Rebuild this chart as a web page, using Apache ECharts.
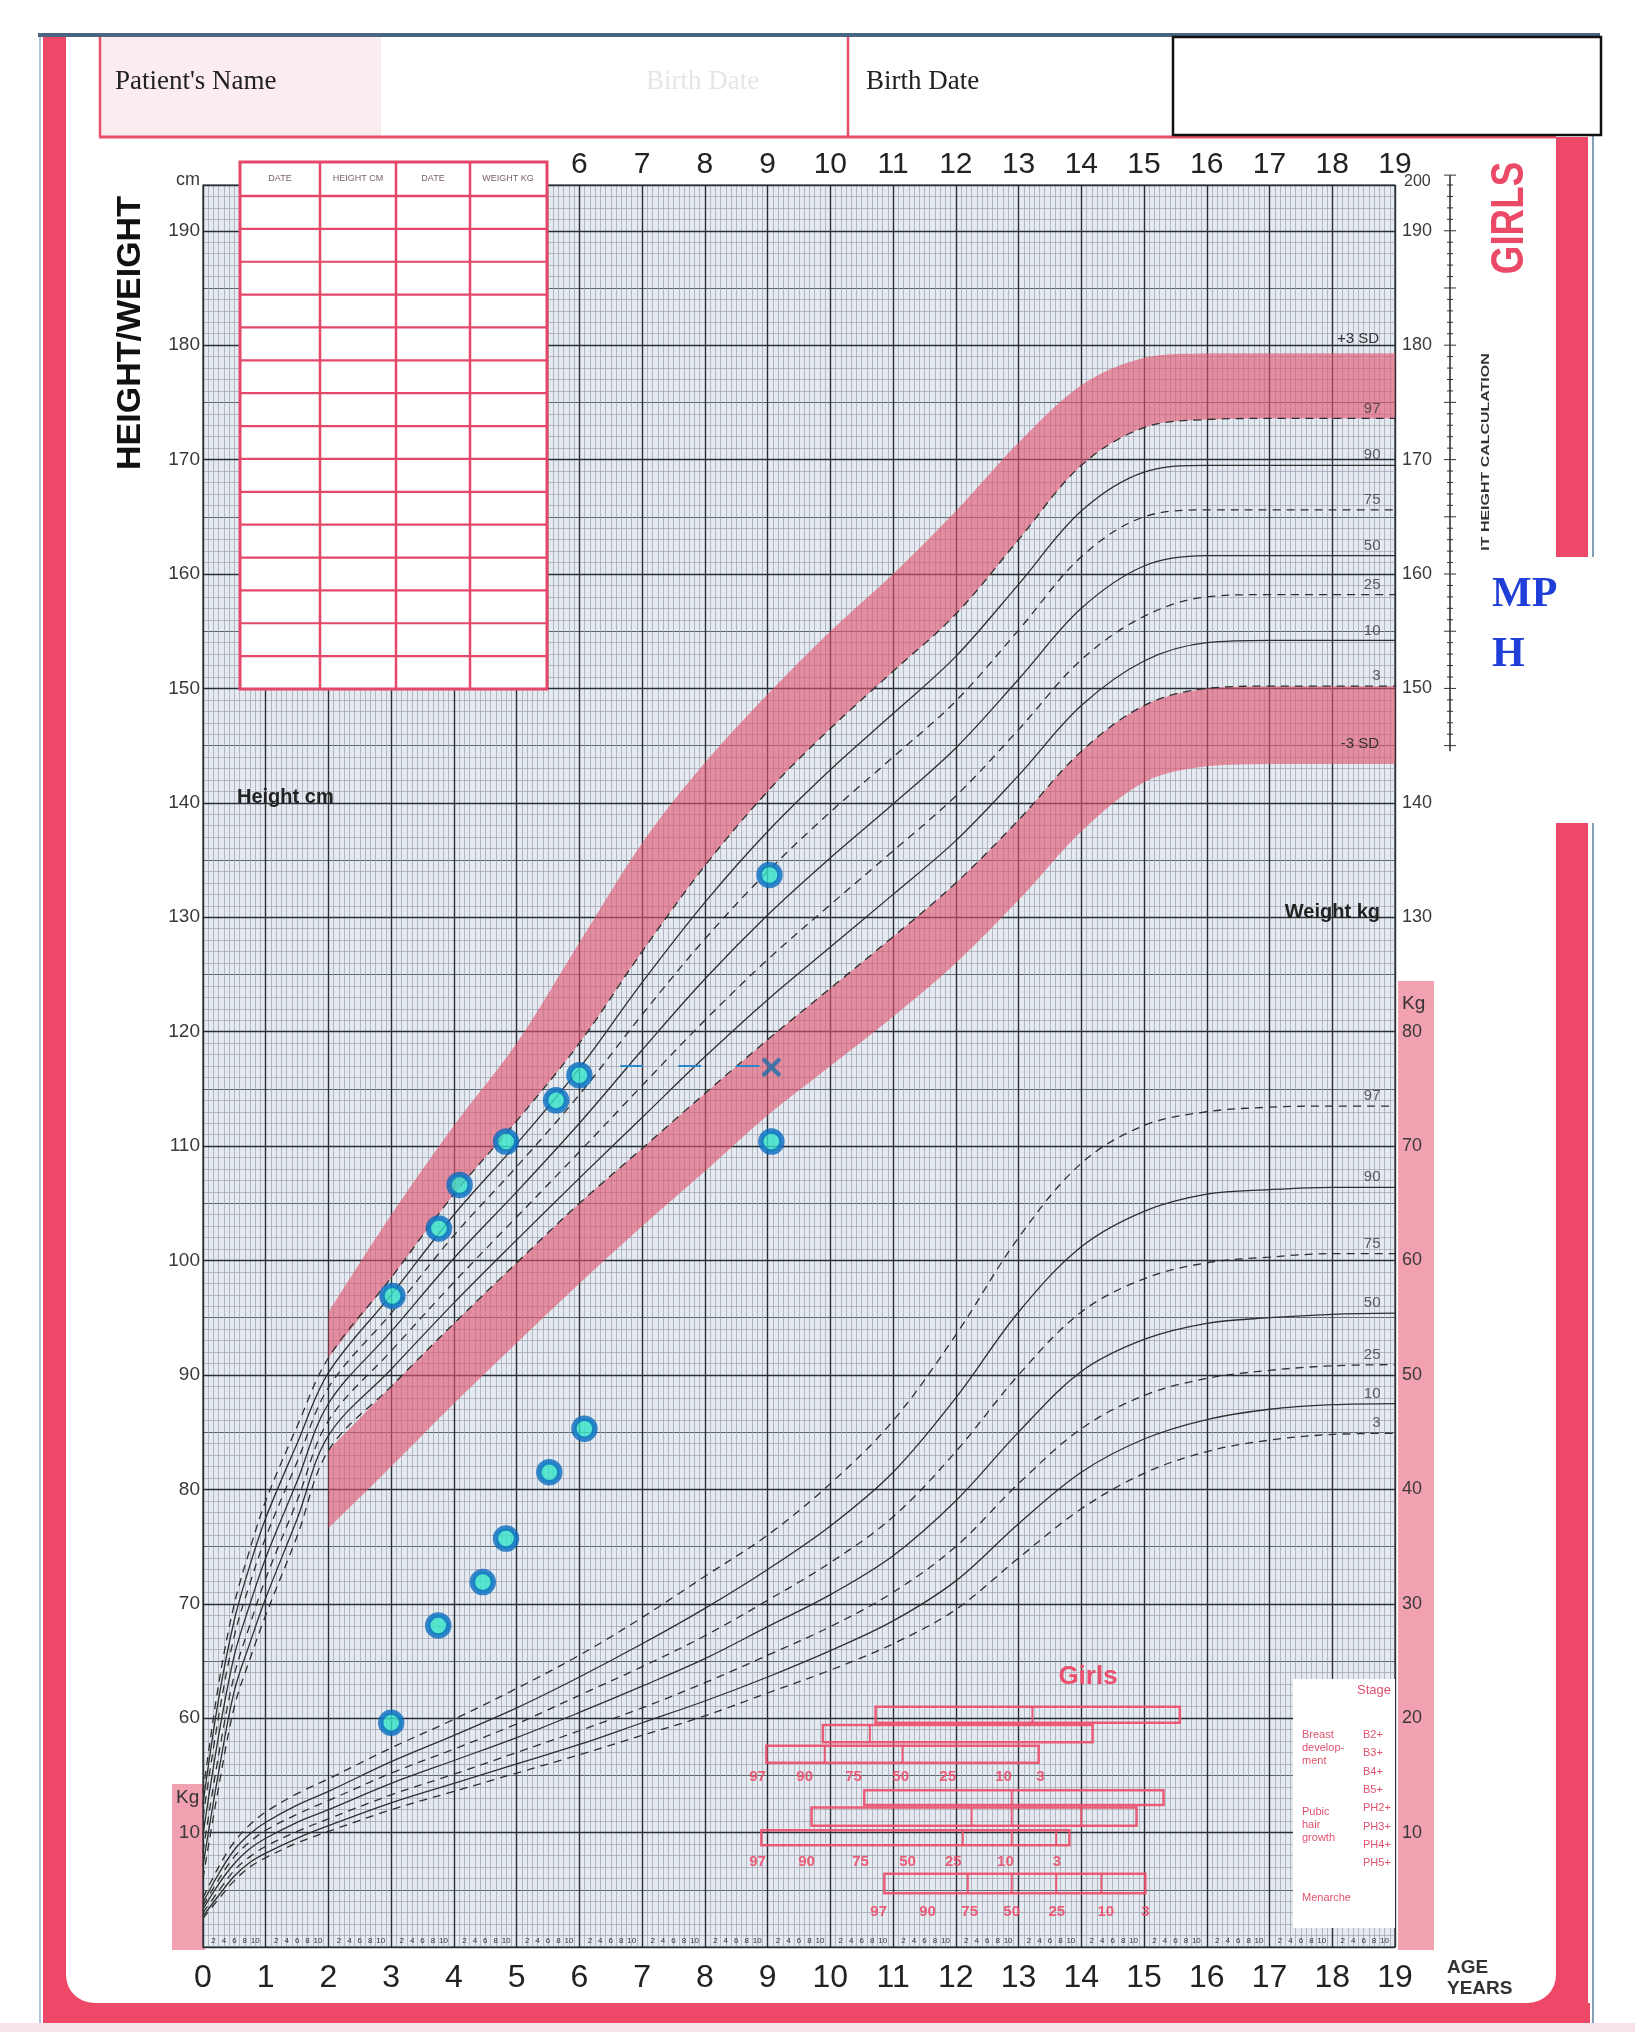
<!DOCTYPE html>
<html>
<head>
<meta charset="utf-8">
<title>Girls height / weight chart</title>
<script src="https://cdn.jsdelivr.net/npm/echarts@6/dist/echarts.min.js"></script>
<style>
  html, body { margin: 0; padding: 0; background: #fff; }
  #chart { width: 1635px; height: 2032px; }
</style>
</head>
<body>
<div id="chart"></div>
<script>
var curveAges = [0, 0.25, 0.5, 0.75, 1, 1.5, 2, 3, 4, 5, 6, 7, 8, 9, 10, 11, 12, 13, 14, 15, 16, 17, 18, 19];
var bandAges = [2, 3, 4, 5, 6, 7, 8, 9, 10, 11, 12, 13, 14, 15, 16, 17, 18, 19];

// height centiles (cm)
var h97 = [53.5, 63, 70, 74.8, 79, 85.5, 91.5, 98.5, 105.8, 112.2, 119, 127, 134.5, 141, 146.5, 151.5, 156.5, 163, 169.5, 172.8, 173.5, 173.6, 173.6, 173.6];
var h90 = [52.5, 61.7, 68.6, 73.4, 77.5, 84, 90.2, 97, 104, 110.2, 116.8, 124.3, 131.3, 137.5, 142.9, 147.8, 152.8, 159.1, 165.5, 168.9, 169.5, 169.5, 169.5, 169.5];
var h75 = [51.3, 60.2, 67.2, 71.8, 75.8, 82.4, 88.9, 95.4, 102.2, 108.2, 114.5, 121.5, 128.1, 134, 139.2, 144, 148.9, 155.1, 161.5, 165, 165.6, 165.6, 165.6, 165.6];
var h50 = [49.8, 58.5, 65.5, 70, 74, 80.7, 87.5, 93.8, 100.2, 106, 112, 118.4, 124.6, 130.2, 135.2, 139.9, 144.8, 150.8, 157, 160.7, 161.6, 161.6, 161.6, 161.6];
var h25 = [48.3, 56.8, 63.8, 68.2, 72.2, 79, 86, 92.1, 98.1, 103.8, 109.5, 115.3, 121, 126.3, 131.1, 135.8, 140.6, 146.4, 152.5, 156.3, 158, 158.2, 158.2, 158.2];
var h10 = [47.1, 55.3, 62.4, 66.6, 70.5, 77.4, 84.7, 90.5, 96.3, 101.8, 107.2, 112.5, 117.8, 122.8, 127.4, 132, 136.7, 142.4, 148.5, 152.4, 154, 154.2, 154.2, 154.2];
var h3 = [46, 54, 61, 65.2, 69, 75.9, 83.4, 89, 94.5, 99.8, 105, 109.8, 114.6, 119.3, 123.8, 128.3, 133, 138.5, 144.5, 148.5, 150, 150.2, 150.2, 150.2];
// +3 SD / -3 SD edges of the shaded bands (from age 2)
var hPlus3 = [95.5, 104, 111.8, 119, 127.8, 136.5, 143.5, 149.5, 155, 160, 165.5, 171.5, 176.5, 178.9, 179.3, 179.3, 179.3, 179.3];
var hMinus3 = [76.6, 82, 87.5, 92.8, 98, 103, 107.8, 112.7, 117, 121.3, 126, 131.5, 137.5, 141.8, 143.2, 143.4, 143.4, 143.4];

// weight centiles (kg)
var w97 = [4.3, 7, 9.2, 10.7, 11.8, 13.4, 14.7, 17.4, 19.9, 22.6, 25.5, 28.8, 32.4, 36, 40.5, 46, 53.5, 62, 68.5, 71.8, 73, 73.4, 73.5, 73.5];
var w90 = [3.9, 6.4, 8.5, 9.9, 10.9, 12.4, 13.6, 16.2, 18.5, 20.9, 23.6, 26.5, 29.6, 33, 36.8, 41.5, 48, 55.5, 61.2, 64.3, 65.8, 66.2, 66.4, 66.4];
var w75 = [3.6, 5.9, 7.9, 9.2, 10.2, 11.6, 12.8, 15.2, 17.3, 19.5, 22, 24.5, 27.2, 30.3, 33.6, 37.6, 43.3, 50, 55.5, 58.4, 59.8, 60.3, 60.6, 60.6];
var w50 = [3.3, 5.5, 7.3, 8.6, 9.5, 10.9, 12, 14.3, 16.3, 18.3, 20.5, 22.8, 25.2, 28, 30.8, 34.2, 39, 45, 50.3, 53.1, 54.5, 55, 55.3, 55.4];
var w25 = [3, 4.9, 6.7, 7.9, 8.8, 10.1, 11.2, 13.3, 15.1, 17, 18.9, 20.9, 23.1, 25.5, 28, 31, 35, 40.5, 45.3, 48.2, 49.7, 50.4, 50.8, 50.9];
var w10 = [2.7, 4.5, 6.2, 7.4, 8.2, 9.5, 10.6, 12.6, 14.3, 16, 17.7, 19.6, 21.5, 23.6, 25.9, 28.5, 32, 37, 41.5, 44.4, 46.1, 47, 47.4, 47.5];
var w3 = [2.5, 4.2, 5.8, 7, 7.8, 9.1, 10.1, 12, 13.6, 15.2, 16.8, 18.5, 20.2, 22.2, 24.2, 26.5, 29.5, 34, 38.3, 41.4, 43.3, 44.3, 44.8, 44.9];

var centileNames = ['97', '90', '75', '50', '25', '10', '3'];

// the patient's measurements
var heightAges = [3.02, 3.76, 4.09, 4.83, 5.63, 6.0, 9.03];
var heights = [96.9, 102.8, 106.6, 110.4, 114.0, 116.2, 133.7];
var weightAges = [3.0, 3.75, 4.46, 4.83, 5.52, 6.08, 9.06];
var weights = [19.6, 28.1, 31.9, 35.7, 41.5, 45.3, 70.4];
var crossAge = 9.06, crossHeight = 116.9;
var dashAges = [6.65, 9.0];
var dashHeights = [117, 117];
var mphHeight = 155.5;

// puberty staging (ages)
var stageFrom = [10.72, 9.88, 8.98, 10.54, 9.70, 8.90, 10.86];
var stageTo = [15.57, 14.18, 13.32, 15.31, 14.88, 13.81, 15.02];
var stageSplits = [[13.22], [10.63], [9.91, 11.15], [12.89], [12.25, 12.89, 14.0], [12.11, 12.89, 13.6], [12.19, 12.89, 13.6, 14.32]];
var breastCentileAges = [8.84, 9.59, 10.37, 11.12, 11.87, 12.76, 13.35];
var hairCentileAges = [8.84, 9.62, 10.48, 11.23, 11.96, 12.79, 13.61];
var menarcheCentileAges = [10.77, 11.55, 12.22, 12.89, 13.61, 14.39, 15.02];

// ---------------------------------------------------------------
var FONT = '"Liberation Sans", Arial, sans-serif';
var SERIF = '"Liberation Serif", "Times New Roman", serif';
var RED = '#ee4869';
var LINE = '#2f2f2f';

function pairs(xs, ys) {
  return xs.map(function (x, i) { return [x, ys[i]]; });
}

function txt(x, y, s, font, fill, align, extra) {
  var el = {
    type: 'text', x: x, y: y, z: 20, silent: true,
    style: { text: s, font: font, fill: fill, align: align || 'left', textAlign: align || 'left',
      verticalAlign: 'middle', textVerticalAlign: 'middle' }
  };
  if (extra) for (var k in extra) el[k] = extra[k];
  return el;
}
function rect(x, y, w, h, style, z) {
  return { type: 'rect', z: z === undefined ? 5 : z, silent: true, shape: { x: x, y: y, width: w, height: h }, style: style };
}
function seg(x1, y1, x2, y2, stroke, lw, z) {
  return { type: 'line', z: z === undefined ? 5 : z, silent: true, shape: { x1: x1, y1: y1, x2: x2, y2: y2 }, style: { stroke: stroke, lineWidth: lw } };
}

function curve(vals, dashed, yIdx) {
  return {
    type: 'line', yAxisIndex: yIdx, data: pairs(curveAges, vals), smooth: 0.35,
    showSymbol: false, silent: true, z: 3,
    lineStyle: { color: LINE, width: 1.3, type: dashed ? [8, 6] : 'solid' }
  };
}

function labelSeries(lists, yIdx) {
  var d = lists.map(function (vals, i) { return [19, vals[vals.length - 1], centileNames[i]]; });
  return {
    type: 'scatter', yAxisIndex: yIdx, data: d, symbolSize: 1, silent: true, z: 4,
    itemStyle: { color: 'rgba(0,0,0,0)' },
    label: { show: true, position: 'left', distance: 14, offset: [0, -10],
      formatter: function (p) { return p.value[2]; }, fontSize: 15, color: '#3a3a3a', fontFamily: FONT }
  };
}

// smooth (Catmull-Rom, clamped) path through already projected pixel points
function bezierThrough(pts) {
  var d = '';
  for (var i = 0; i < pts.length - 1; i++) {
    var p0 = pts[Math.max(i - 1, 0)], p1 = pts[i], p2 = pts[i + 1], p3 = pts[Math.min(i + 2, pts.length - 1)];
    var c1x = p1[0] + (p2[0] - p0[0]) / 6, c1y = p1[1] + (p2[1] - p0[1]) / 6;
    var c2x = p2[0] - (p3[0] - p1[0]) / 6, c2y = p2[1] - (p3[1] - p1[1]) / 6;
    var lo = Math.min(p1[1], p2[1]), hi = Math.max(p1[1], p2[1]);
    c1y = Math.min(hi, Math.max(lo, c1y));
    c2y = Math.min(hi, Math.max(lo, c2y));
    d += ' C' + c1x + ',' + c1y + ' ' + c2x + ',' + c2y + ' ' + p2[0] + ',' + p2[1];
  }
  return d;
}

function band(upper, lower, color, labelText, labelDy, labelFromUpper) {
  return {
    type: 'custom', data: [0], silent: true, z: 2,
    renderItem: function (params, api) {
      var up = [], low = [];
      for (var i = 0; i < bandAges.length; i++) up.push(api.coord([bandAges[i], upper[i]]));
      for (var j = bandAges.length - 1; j >= 0; j--) low.push(api.coord([bandAges[j], lower[j]]));
      var d = 'M' + up[0][0] + ',' + up[0][1] + bezierThrough(up) +
        ' L' + low[0][0] + ',' + low[0][1] + bezierThrough(low) + ' Z';
      var last = bandAges.length - 1;
      var anchor = api.coord([19, labelFromUpper ? upper[last] : lower[last]]);
      return {
        type: 'group', children: [
          { type: 'path', shape: { pathData: d }, style: { fill: color } },
          { type: 'text', x: anchor[0] - 16, y: anchor[1] + labelDy,
            style: { text: labelText, font: '15px ' + FONT, fill: '#333', align: 'right', textAlign: 'right',
              verticalAlign: 'middle', textVerticalAlign: 'middle' } }
        ]
      };
    }
  };
}

// staging diagram rows, in chart units (kg-scale height positions)
var stageRowTop = [61.0, 59.4, 57.6, 53.7, 52.2, 50.2, 46.4];
var stageRowBottom = [59.6, 57.9, 56.1, 52.4, 50.6, 48.9, 44.7];
var stageLabelLevel = [54.9, 47.4, 43.1];
var STAGE = 'rgba(236, 78, 108, 0.9)';

function stageItem(params, api) {
  var ch = [];
  for (var i = 0; i < stageFrom.length; i++) {
    var a = api.coord([stageFrom[i], stageRowTop[i]]);
    var b = api.coord([stageTo[i], stageRowBottom[i]]);
    ch.push({ type: 'rect', shape: { x: a[0], y: a[1], width: b[0] - a[0], height: b[1] - a[1] },
      style: { fill: 'none', stroke: STAGE, lineWidth: 2.5 } });
    stageSplits[i].forEach(function (s) {
      var p = api.coord([s, stageRowTop[i]]);
      ch.push({ type: 'line', shape: { x1: p[0], y1: a[1], x2: p[0], y2: b[1] }, style: { stroke: STAGE, lineWidth: 2 } });
    });
  }
  [breastCentileAges, hairCentileAges, menarcheCentileAges].forEach(function (ages, r) {
    ages.forEach(function (age, k) {
      var p = api.coord([age, stageLabelLevel[r]]);
      ch.push({ type: 'text', x: p[0], y: p[1],
        style: { text: centileNames[k], font: 'bold 15px ' + FONT, fill: STAGE, align: 'center', textAlign: 'center',
          verticalAlign: 'middle', textVerticalAlign: 'middle' } });
    });
  });
  return { type: 'group', children: ch };
}

// mid-parental height ruler right of the grid
function rulerItem(params, api) {
  var top = api.coord([19, 194.6]);
  var bot = api.coord([19, 144.5]);
  var x = top[0] + 55;
  var ch = [{ type: 'line', shape: { x1: x, y1: top[1] - 3, x2: x, y2: bot[1] }, style: { stroke: '#333', lineWidth: 1.6 } }];
  for (var v = 145; v <= 194; v++) {
    var p = api.coord([19, v]);
    var len = v % 5 === 0 ? 6 : 3;
    ch.push({ type: 'line', shape: { x1: x - len, y1: p[1], x2: x + len, y2: p[1] }, style: { stroke: '#333', lineWidth: 1 } });
  }
  ch.push({ type: 'line', shape: { x1: x - 6, y1: top[1] - 3, x2: x + 6, y2: top[1] - 3 }, style: { stroke: '#333', lineWidth: 1 } });
  return { type: 'group', children: ch };
}

function leftLabel(v) {
  if (v % 10 !== 0) return '';
  if (v >= 60) return String(v);
  if (v === 50) return '10';
  return '';
}
function rightLabel(v) {
  if (v >= 10 && v <= 80) return String(v);
  if (v >= 90 && v <= 150) return String(v + 40);
  return '';
}
function monthLabel(v) {
  var m = Math.round((v - Math.floor(v + 1e-6)) * 12);
  return m === 0 ? '' : String(m);
}

// ---------- decoration drawn in page pixels ----------
var graphics = [];
// page edges and red frame
graphics.push(rect(38, 33, 1562, 4, { fill: '#4a6580' }, 1));
graphics.push(seg(40, 37, 40, 2023, '#7d9bb8', 1.2, 1));
graphics.push(rect(43, 37, 23, 1986, { fill: RED }, 1));
graphics.push(rect(43, 2003, 1547, 20, { fill: RED }, 1));
graphics.push(rect(0, 2023, 1635, 9, { fill: '#f8e4e8' }, 1));
graphics.push(rect(1556, 137, 32, 420, { fill: RED }, 1));
graphics.push(rect(1556, 823, 32, 1200, { fill: RED }, 1));
graphics.push(seg(1593, 37, 1593, 557, '#5b7f9c', 1.5, 1));
graphics.push(seg(1593, 823, 1593, 2023, '#5b7f9c', 1.5, 1));
graphics.push(rect(66, 1975, 28, 28, { fill: RED }, 1));
graphics.push({ type: 'sector', z: 2, silent: true, shape: { cx: 94, cy: 1975, r: 28, r0: 0, startAngle: Math.PI / 2, endAngle: Math.PI }, style: { fill: '#fff' } });
graphics.push(rect(1528, 1975, 28, 28, { fill: RED }, 1));
graphics.push({ type: 'sector', z: 2, silent: true, shape: { cx: 1528, cy: 1975, r: 28, r0: 0, startAngle: 0, endAngle: Math.PI / 2 }, style: { fill: '#fff' } });

// header
graphics.push(rect(99, 37, 282, 99, { fill: '#fbecef' }, 1));
graphics.push(seg(99, 137, 1556, 137, '#e8506a', 3, 2));
graphics.push(seg(100, 37, 100, 137, '#e8506a', 2.5, 2));
graphics.push(seg(848, 37, 848, 137, '#e8506a', 2.5, 2));
graphics.push(txt(115, 82, "Patient's Name", '27px ' + SERIF, '#222'));
graphics.push(txt(646, 82, 'Birth Date', '27px ' + SERIF, '#e6e6e6'));
graphics.push(txt(866, 82, 'Birth Date', '27px ' + SERIF, '#222'));
graphics.push(rect(1173, 37, 428, 98, { fill: '#fff', stroke: '#111', lineWidth: 2.5 }, 3));

// side titles
graphics.push(txt(131, 333, 'HEIGHT/WEIGHT', 'bold 34px ' + FONT, '#111', 'center', { rotation: Math.PI / 2 }));
graphics.push(txt(1510, 218, 'GIRLS', 'bold 46px ' + FONT, '#ea4a66', 'center', { rotation: Math.PI / 2, scaleX: 0.8 }));
graphics.push(txt(1486, 452, 'IT HEIGHT CALCULATION', 'bold 11px ' + FONT, '#333', 'center', { rotation: Math.PI / 2, scaleX: 1.45 }));
graphics.push(txt(1492, 595, 'MP', 'bold 42px ' + SERIF, '#1f3fd8'));
graphics.push(txt(1492, 655, 'H', 'bold 42px ' + SERIF, '#1f3fd8'));
graphics.push(txt(1404, 182, '200', '16px ' + FONT, '#3a3a3a'));

// pink weight strips
graphics.push(rect(172, 1784, 33, 166, { fill: '#f2a1b1' }, -1));
graphics.push(rect(1398, 981, 36, 969, { fill: '#f2a1b1' }, -1));
graphics.push(txt(176, 1798, 'Kg', '19px ' + FONT, '#333'));
graphics.push(txt(1402, 1004, 'Kg', '19px ' + FONT, '#333'));

// axis captions
graphics.push(txt(176, 180, 'cm', '18px ' + FONT, '#3a3a3a'));
graphics.push(txt(237, 797, 'Height cm', 'bold 20px ' + FONT, '#222'));
graphics.push(txt(1380, 912, 'Weight kg', 'bold 20px ' + FONT, '#222', 'right'));
graphics.push(txt(1447, 1968, 'AGE', 'bold 19px ' + FONT, '#333'));
graphics.push(txt(1447, 1989, 'YEARS', 'bold 19px ' + FONT, '#333'));

// record table top left
(function () {
  var x0 = 240, y0 = 162, w = 307, h = 527, head = 34;
  var cols = [320, 396, 470];
  var tc = '#e4476a';
  graphics.push(rect(x0, y0, w, h, { fill: '#fff', stroke: tc, lineWidth: 3 }, 30));
  cols.forEach(function (c) { graphics.push(seg(c, y0, c, y0 + h, tc, 2.5, 31)); });
  graphics.push(seg(x0, y0 + head, x0 + w, y0 + head, tc, 2.5, 31));
  var rowH = (h - head) / 15;
  for (var r = 1; r < 15; r++) {
    var yy = y0 + head + r * rowH;
    graphics.push(seg(x0, yy, x0 + w, yy, tc, 2.2, 31));
  }
  var heads = ['DATE', 'HEIGHT CM', 'DATE', 'WEIGHT KG'];
  var centres = [280, 358, 433, 508];
  heads.forEach(function (s, i) {
    graphics.push(txt(centres[i], y0 + 17, s, '9px ' + FONT, '#7a6068', 'center', { z: 32 }));
  });
})();

// staging legend box
(function () {
  var sc = '#e0526e';
  graphics.push(rect(1293, 1679, 102, 249, { fill: '#fff' }, 6));
  var f = '11px ' + FONT;
  graphics.push(txt(1391, 1690, 'Stage', '13px ' + FONT, sc, 'right'));
  [['Breast', 1735], ['develop-', 1748], ['ment', 1761], ['Pubic', 1812], ['hair', 1825], ['growth', 1838], ['Menarche', 1898]]
    .forEach(function (t) { graphics.push(txt(1302, t[1], t[0], f, sc)); });
  [['B2+', 1735], ['B3+', 1753], ['B4+', 1772], ['B5+', 1790], ['PH2+', 1808], ['PH3+', 1827], ['PH4+', 1845], ['PH5+', 1863]]
    .forEach(function (t) { graphics.push(txt(1363, t[1], t[0], f, sc)); });
  graphics.push(txt(1088, 1677, 'Girls', 'bold 26px ' + FONT, '#ec4f6d', 'center'));
})();

var series = [
  band(hPlus3, h97.slice(6), 'rgba(226, 84, 112, 0.62)', '+3 SD', -14, true),
  band(h3.slice(6), hMinus3, 'rgba(226, 84, 112, 0.62)', '-3 SD', -20, false),
  curve(h97, true, 0), curve(h90, false, 0), curve(h75, true, 0), curve(h50, false, 0),
  curve(h25, true, 0), curve(h10, false, 0), curve(h3, true, 0),
  curve(w97, true, 1), curve(w90, false, 1), curve(w75, true, 1), curve(w50, false, 1),
  curve(w25, true, 1), curve(w10, false, 1), curve(w3, true, 1),
  labelSeries([h97, h90, h75, h50, h25, h10, h3], 0),
  labelSeries([w97, w90, w75, w50, w25, w10, w3], 1),
  { type: 'custom', data: [0], silent: true, z: 5, renderItem: stageItem },
  { type: 'custom', data: [0], silent: true, z: 5, renderItem: rulerItem },
  { type: 'line', data: [[19.1, mphHeight], [19.85, mphHeight]], clip: false, showSymbol: false, silent: true, z: 6,
    lineStyle: { color: '#1f72b8', width: 4 } },
  { type: 'line', data: pairs(dashAges, dashHeights), showSymbol: false, silent: true, z: 8,
    lineStyle: { color: '#2c86c8', width: 2.2, type: [23, 35] } },
  { type: 'scatter', data: pairs(heightAges, heights), symbolSize: 21, z: 10, silent: true,
    itemStyle: { color: '#35e3c8', borderColor: '#0b6cc0', borderWidth: 5.5 } },
  { type: 'scatter', yAxisIndex: 1, data: pairs(weightAges, weights), symbolSize: 21, z: 10, silent: true,
    itemStyle: { color: '#35e3c8', borderColor: '#0b6cc0', borderWidth: 5.5 } },
  { type: 'scatter', data: [[crossAge, crossHeight]], symbolSize: 20, z: 10, silent: true,
    symbol: 'path://M1.5,0 L5,3.5 L8.5,0 L10,1.5 L6.5,5 L10,8.5 L8.5,10 L5,6.5 L1.5,10 L0,8.5 L3.5,5 L0,1.5 Z',
    itemStyle: { color: '#1d6fa8' } }
];

var option = {
  backgroundColor: '#ffffff',
  animation: false,
  grid: { left: 203, top: 185, width: 1192, height: 1762, show: true, backgroundColor: '#e5eaf0',
    borderWidth: 1.2, borderColor: '#2a2f36' },
  xAxis: [
    { type: 'value', min: 0, max: 19, interval: 1, position: 'bottom',
      axisLine: { show: true, lineStyle: { color: '#2a2f36', width: 1.2 } }, axisTick: { show: false },
      axisLabel: { fontSize: 32, color: '#222', margin: 15, fontFamily: FONT },
      splitLine: { show: true, lineStyle: { color: '#2a2f36', width: 1.4 } },
      minorTick: { show: false, splitNumber: 12 },
      minorSplitLine: { show: true, lineStyle: { color: '#98a1ad', width: 0.7 } } },
    { type: 'value', min: 0, max: 19, interval: 1, position: 'top',
      axisLine: { show: false }, axisTick: { show: false }, splitLine: { show: false },
      axisLabel: { fontSize: 30, color: '#222', margin: 5, fontFamily: FONT,
        formatter: function (v) { return v >= 6 ? String(v) : ''; } } },
    { type: 'value', min: 0, max: 19, interval: 1 / 6, position: 'bottom',
      axisLine: { show: false }, axisTick: { show: false }, splitLine: { show: false },
      axisLabel: { inside: true, fontSize: 8, color: '#333', margin: 2, fontFamily: FONT, formatter: monthLabel } }
  ],
  yAxis: [
    { type: 'value', min: 40, max: 194, interval: 5, position: 'left',
      axisLine: { show: false }, axisTick: { show: false },
      axisLabel: { fontSize: 19, color: '#3a3a3a', margin: 3, fontFamily: FONT, formatter: leftLabel },
      splitLine: { show: true, lineStyle: { color: '#5c646e', width: 1 } },
      minorTick: { show: false, splitNumber: 5 },
      minorSplitLine: { show: true, lineStyle: { color: '#a49fae', width: 0.7 } } },
    { type: 'value', min: 0, max: 154, interval: 10, position: 'right',
      axisLine: { show: false }, axisTick: { show: false }, splitLine: { show: false },
      axisLabel: { fontSize: 18, color: '#3a3a3a', margin: 7, fontFamily: FONT, formatter: rightLabel } },
    { type: 'value', min: 40, max: 194, interval: 10, position: 'left', z: 1,
      axisLine: { show: false }, axisTick: { show: false }, axisLabel: { show: false },
      splitLine: { show: true, lineStyle: { color: '#2a2f36', width: 1.4 } } }
  ],
  graphic: { elements: graphics },
  series: series
};

var chart = echarts.init(document.getElementById('chart'));
chart.setOption(option);
</script>
</body>
</html>
